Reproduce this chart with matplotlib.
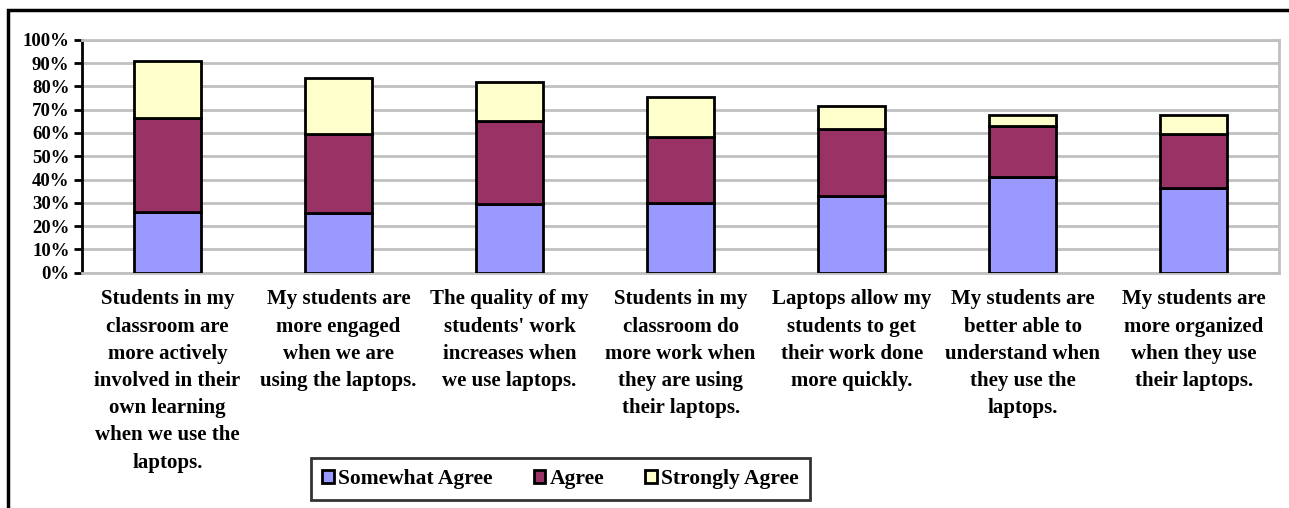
import matplotlib
matplotlib.use("Agg")
import matplotlib.pyplot as plt
from matplotlib.patches import Rectangle
from matplotlib.ticker import PercentFormatter

categories = [
    "Students in my\nclassroom are\nmore actively\ninvolved in their\nown learning\nwhen we use the\nlaptops.",
    "My students are\nmore engaged\nwhen we are\nusing the laptops.",
    "The quality of my\nstudents' work\nincreases when\nwe use laptops.",
    "Students in my\nclassroom do\nmore work when\nthey are using\ntheir laptops.",
    "Laptops allow my\nstudents to get\ntheir work done\nmore quickly.",
    "My students are\nbetter able to\nunderstand when\nthey use the\nlaptops.",
    "My students are\nmore organized\nwhen they use\ntheir laptops.",
]
somewhat_agree = [26.2, 25.6, 29.5, 29.9, 33.0, 41.2, 36.4]
agree = [40.0, 34.1, 35.4, 28.2, 28.7, 21.6, 23.1]
strongly_agree = [24.5, 23.9, 16.9, 17.3, 9.7, 4.7, 8.0]
series_names = ["Somewhat Agree", "Agree", "Strongly Agree"]
colors = ["#9999FF", "#993366", "#FFFFCC"]
yticks = list(range(0, 101, 10))

plt.rcParams['font.family'] = ['Liberation Serif', 'DejaVu Serif']
plt.rcParams['font.weight'] = 'bold'

fig = plt.figure(figsize=(12.89, 5.08), dpi=100)
ax = fig.add_axes([82/1289, 1-272.7/508, (1279.3-82)/1289, (272.7-39.7)/508])

x = list(range(len(categories)))
bottom = [0]*len(x)
handles = []
for vals, name, c in zip([somewhat_agree, agree, strongly_agree], series_names, colors):
    b = ax.bar(x, vals, width=0.39, bottom=bottom, color=c, edgecolor='black',
               linewidth=2, label=name, zorder=3)
    handles.append(b)
    bottom = [bo + v for bo, v in zip(bottom, vals)]

ax.set_xlim(-0.5, len(x) - 0.5)
ax.set_ylim(0, 100)
ax.set_yticks(yticks)
ax.yaxis.set_major_formatter(PercentFormatter(decimals=0))
ax.yaxis.grid(True, color='#C0C0C0', linewidth=2, zorder=0)
ax.set_axisbelow(True)
ax.tick_params(axis='y', direction='out', length=6, width=2, color='black',
               labelsize=13.5, pad=3)
for lbl in ax.get_yticklabels():
    lbl.set_fontweight('bold')

ax.set_xticks(x)
ax.set_xticklabels(categories, fontsize=15, fontweight='bold', linespacing=1.48,
                   ha='center', va='top')
ax.tick_params(axis='x', length=0, pad=12)

ax.spines['left'].set_color('black')
ax.spines['left'].set_linewidth(2)
for s in ['top', 'right', 'bottom']:
    ax.spines[s].set_color('#C0C0C0')
    ax.spines[s].set_linewidth(2)

leg = fig.legend(handles=handles, labels=series_names, loc='center',
                 bbox_to_anchor=(560.5/1289, 1-479/508), ncol=3,
                 prop={'family': ['Liberation Serif'], 'weight': 'bold', 'size': 15.5},
                 frameon=True, fancybox=False, edgecolor='black',
                 handlelength=0.55, handleheight=0.55, handletextpad=0.2,
                 columnspacing=1.9, borderpad=0.5, borderaxespad=0)
leg.get_frame().set_linewidth(2)

fig.add_artist(Rectangle((8/1289, -0.1), 1.2, 1.1 - 10/508, transform=fig.transFigure,
                         fill=False, edgecolor='black', linewidth=2.5, clip_on=False))

fig.savefig("out.png", dpi=100)
